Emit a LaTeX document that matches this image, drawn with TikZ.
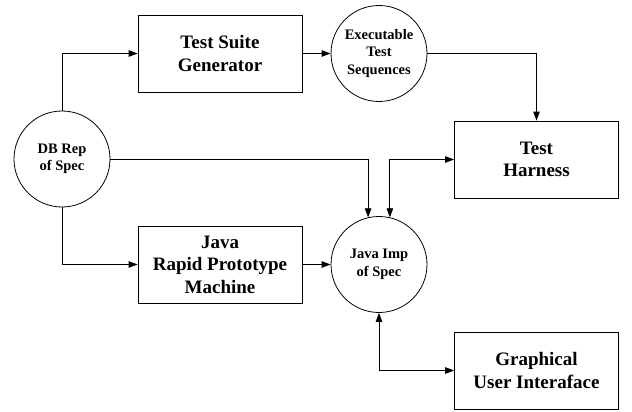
\documentclass[tikz,border=0pt]{standalone}
\usepackage{fontspec}
\setmainfont{Liberation Serif}
\usetikzlibrary{arrows.meta}
\begin{document}
\begin{tikzpicture}[x=1pt,y=-1pt,
  boxnode/.style={draw,line width=0.8pt,minimum width=164pt,minimum height=77pt,inner sep=0pt,align=center,font=\fontsize{19}{22.5}\selectfont\bfseries},
  circnode/.style={draw,line width=0.8pt,circle,minimum size=96pt,inner sep=0pt,align=center,font=\fontsize{14.5}{17.5}\selectfont\bfseries},
  conn/.style={line width=0.8pt,-{Triangle[length=9pt,width=6.5pt]}},
  biconn/.style={line width=0.8pt,{Triangle[length=9pt,width=6.5pt]}-{Triangle[length=9pt,width=6.5pt]}}]
\useasboundingbox (0,0) rectangle (632,412);
\node[circnode] (db) at (62,159) {DB Rep\\of Spec};
\node[boxnode] (tsg) at (220,53.5) {Test Suite\\Generator};
\node[circnode] (ets) at (379,53.5) {Executable\\Test\\Sequences};
\node[boxnode] (th) at (536.5,159.5) {Test\\Harness};
\node[circnode] (ji) at (379,264.5) {Java Imp\\of Spec};
\node[boxnode] (rpm) at (220,264.5) {Java\\Rapid Prototype\\Machine};
\node[boxnode] (gui) at (536.5,370.5) {Graphical\\User Interaface};
\draw[conn] (db.north) |- (tsg.west);
\draw[conn] (tsg.east) -- (ets.west);
\draw[conn] (ets.east) -| (th.north);
\draw[conn] (db.east) -| (ji.103);
\draw[biconn] (th.west) -| (ji.77);
\draw[conn] (db.south) |- (rpm.west);
\draw[conn] (rpm.east) -- (ji.west);
\draw[biconn] (ji.south) |- (gui.west);
\end{tikzpicture}
\end{document}
